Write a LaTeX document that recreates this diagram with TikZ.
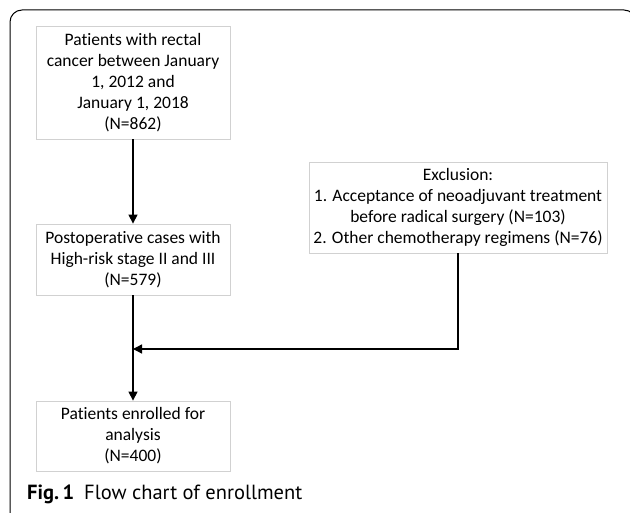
\documentclass[tikz,border=0pt]{standalone}
\usepackage{fontspec}
\setmainfont{Carlito}[Ligatures={NoCommon}]
\newfontfamily\capfont{PT Sans}
\usetikzlibrary{arrows.meta}

\tikzset{
  flowbox/.style={draw=black!18, line width=0.8pt, align=center, inner sep=0pt,
    font=\fontsize{17.5}{21}\selectfont},
  flowline/.style={line width=1.3pt},
  flowarrow/.style={flowline, -{Triangle[length=9pt,width=9pt]}}
}

\begin{document}
\begin{tikzpicture}[x=1pt,y=-1pt]
  \useasboundingbox (0,0) rectangle (630,513);
  \path[clip] (0,0) rectangle (630,513);
  \draw[line width=1pt,rounded corners=12pt] (10,10) rectangle (636,525);

  \node[flowbox,minimum width=194pt,minimum height=113pt] (patients) at (133,82.5)
    {Patients with rectal\\cancer between January\\1, 2012 and\\January 1, 2018\\(N=862)};
  \node[flowbox,minimum width=194pt,minimum height=71pt] (postop) at (133,259.5)
    {Postoperative cases with\\High-risk stage II and III\\(N=579)};
  \node[flowbox,minimum width=298pt,minimum height=91pt] (excl) at (458,207.5)
    {Exclusion:\\1. Acceptance of neoadjuvant treatment\\before radical surgery (N=103)\\2. Other chemotherapy regimens (N=76)};
  \node[flowbox,minimum width=194pt,minimum height=70pt] (enrolled) at (133,436)
    {Patients enrolled for\\analysis\\(N=400)};

  \coordinate (join) at (133,349);

  \draw[flowarrow] (patients) -- (postop);
  \draw[flowarrow] (postop) -- (enrolled);
  \draw[flowarrow] (excl.south) -- (excl.south |- join) -- (join);

  \node[anchor=base west,inner sep=0pt,font=\capfont\fontsize{20.5}{24}\selectfont] (caption) at (27,499)
    {\textbf{Fig.\,1}\hspace{10pt}Flow chart of enrollment};
\end{tikzpicture}
\end{document}
